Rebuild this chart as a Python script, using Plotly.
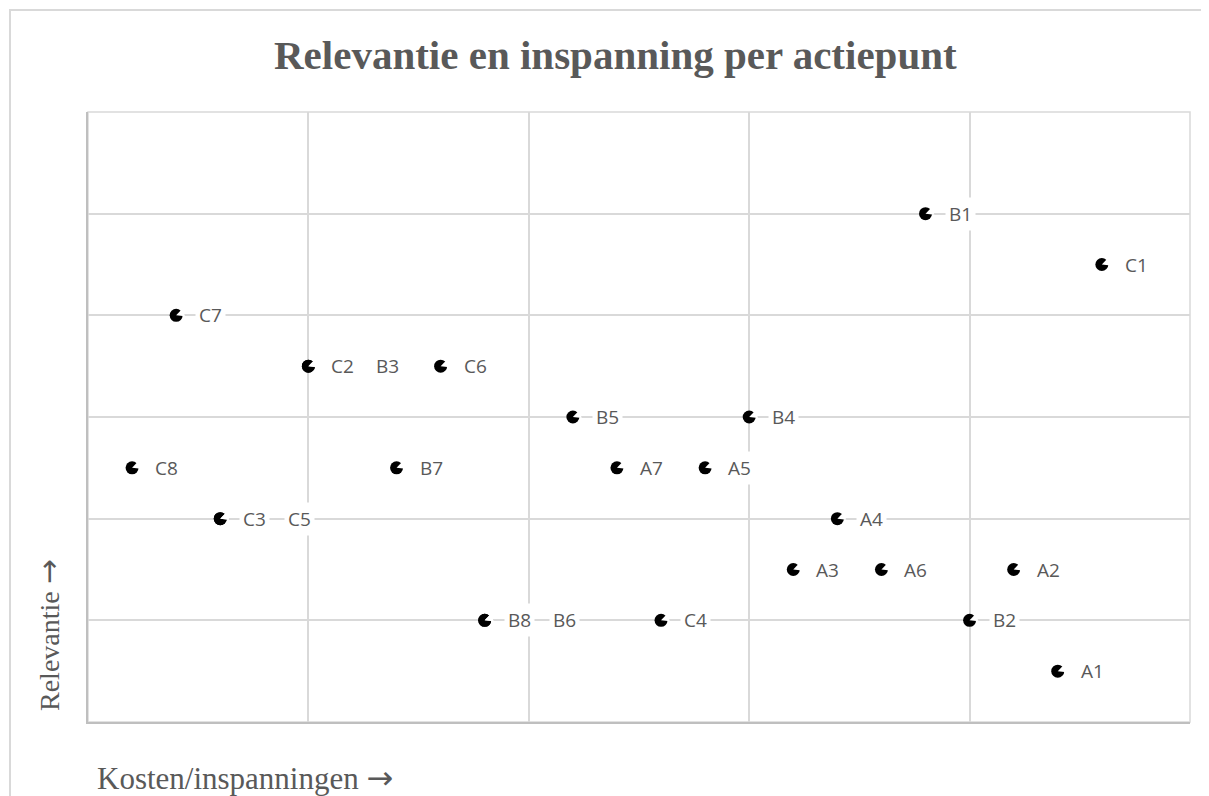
import plotly.graph_objects as go

# Data: action points (cost/effort on x, relevance on y)
names = ["A1", "A2", "A3", "A4", "A5", "A6", "A7",
         "C2", "B3", "C3", "C5", "B8", "B6",
         "B1", "B2", "B4", "B5", "B7",
         "C1", "C4", "C6", "C7", "C8"]
kosten = [22, 21, 16, 17, 14, 18, 12,
          5, 5, 3, 3, 9, 9,
          19, 20, 15, 11, 7,
          23, 13, 8, 2, 1]
relevantie = [1, 3, 3, 4, 5, 3, 5,
              7, 7, 4, 4, 2, 2,
              10, 2, 6, 6, 5,
              9, 2, 7, 8, 5]

title_text = "Relevantie en inspanning per actiepunt"
x_title = "Kosten/inspanningen"
y_title = "Relevantie"

OFF = 8  # page body margin
W, H = 1209 - OFF, 796 - OFF
L, R, T, B = 88 - OFF, 1190 - OFF, 112 - OFF, 722 - OFF
pw, ph = R - L, B - T


def px(xp):
    return (xp - OFF - L) / pw


def py(yp):
    return (B - (yp - OFF)) / ph


grey = "#595959"


def arrow(sz):
    return "<span style='font-family:DejaVu Sans;font-size:%dpx'>→</span>" % sz


fig = go.Figure()
fig.add_trace(go.Scatter(
    x=kosten, y=relevantie, mode="markers",
    marker=dict(symbol="circle", size=13, color="black"),
    hoverinfo="text", text=names, showlegend=False, cliponaxis=False))
fig.add_trace(go.Scatter(
    x=kosten, y=relevantie, mode="markers",
    marker=dict(symbol="arrow-left", size=8, color="white", angle=-20,
                line=dict(width=0)),
    hoverinfo="skip", showlegend=False, cliponaxis=False))

annotations = []
seen = {}
for n, xv, yv in zip(names, kosten, relevantie):
    k = seen.get((xv, yv), 0)
    seen[(xv, yv)] = k + 1
    annotations.append(dict(
        x=xv, y=yv, xref="x", yref="y", text=n, showarrow=False,
        xanchor="left", yanchor="middle", xshift=19 + 45 * k,
        font=dict(family="Open Sans", size=19, color=grey),
        bgcolor="white", borderpad=3))

annotations.append(dict(
    x=px(615), y=py(55), xref="paper", yref="paper", text="<b>" + title_text + "</b>",
    showarrow=False, xanchor="center", yanchor="middle",
    font=dict(family="Liberation Serif", size=41, color=grey)))
annotations.append(dict(
    x=px(95), y=py(778), xref="paper", yref="paper", text=x_title + " " + arrow(32),
    showarrow=False, xanchor="left", yanchor="middle",
    font=dict(family="Liberation Serif", size=31, color=grey)))
annotations.append(dict(
    x=px(48), y=py(635), xref="paper", yref="paper", text=y_title + " " + arrow(30),
    textangle=-90, showarrow=False, xanchor="center", yanchor="middle",
    font=dict(family="Liberation Serif", size=28, color=grey)))

fig.update_layout(
    width=W, height=H,
    margin=dict(l=L, r=W - R, t=T, b=H - B),
    paper_bgcolor="white", plot_bgcolor="white",
    annotations=annotations,
    shapes=[dict(type="rect", xref="paper", yref="paper",
                 x0=px(10), x1=px(1210), y0=py(805), y1=py(10),
                 line=dict(color="#d9d9d9", width=2), layer="below"),
            dict(type="rect", xref="paper", yref="paper",
                 x0=0, x1=1, y0=0, y1=1,
                 line=dict(color="#d9d9d9", width=1.5), layer="below")],
    xaxis=dict(range=[0, 25], dtick=5, tick0=0, showticklabels=False, ticks="",
               showgrid=True, gridcolor="#d9d9d9", gridwidth=1.5,
               zeroline=False, showline=True, linecolor="#bfbfbf", linewidth=1.5),
    yaxis=dict(range=[0, 12], dtick=2, tick0=0, showticklabels=False, ticks="",
               showgrid=True, gridcolor="#d9d9d9", gridwidth=1.5,
               zeroline=False, showline=True, linecolor="#bfbfbf", linewidth=1.5),
)

fig.write_html("out.html")
